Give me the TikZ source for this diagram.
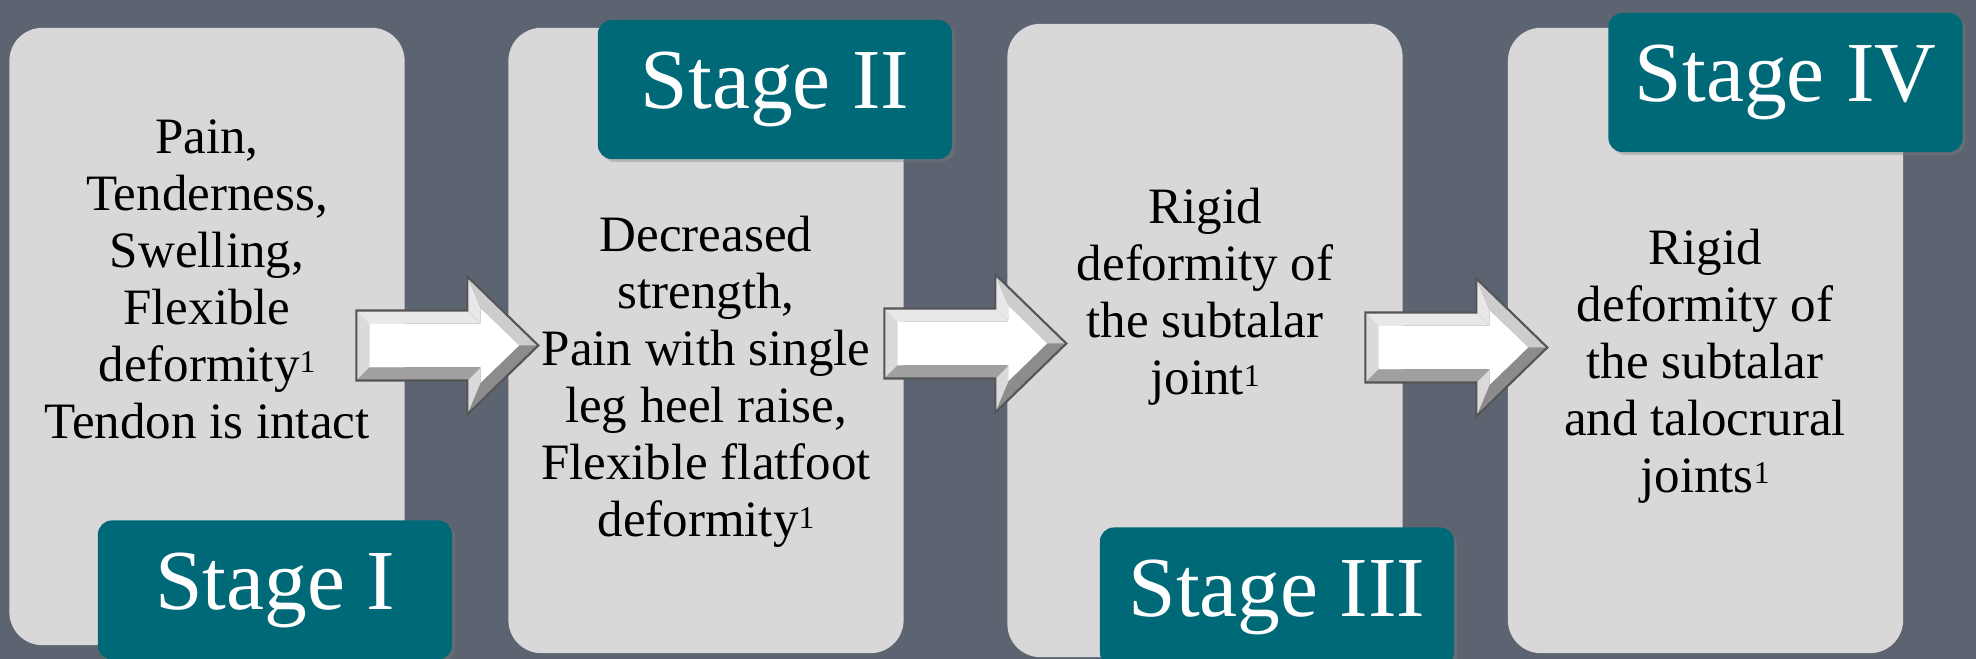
\documentclass[tikz,border=0pt]{standalone}
\usepackage{fontspec}
\setmainfont{Liberation Serif}
\usetikzlibrary{calc,shadows}

\definecolor{slatebg}{RGB}{91,100,112}
\definecolor{panelgray}{RGB}{217,215,216}
\definecolor{stageteal}{RGB}{0,105,120}
\definecolor{bevlight}{RGB}{232,232,232}
\definecolor{bevside}{RGB}{218,218,218}
\definecolor{bevmid}{RGB}{205,205,205}
\definecolor{bevdark}{RGB}{140,140,140}
\definecolor{bevbottom}{RGB}{160,160,160}
\definecolor{bevline}{RGB}{85,85,85}

% small footnote mark as in the slide
\newcommand{\refmark}{\raisebox{0.35ex}{\fontsize{9}{9}\selectfont 1}}

\tikzset{
  panel/.style={fill=panelgray, rounded corners=0.33cm, minimum width=3.95cm, minimum height=6.25cm, inner sep=0pt},
  stagelabel/.style={fill=stageteal, rounded corners=0.14cm, minimum width=3.54cm, minimum height=1.39cm,
    inner sep=0pt, text=white, font=\fontsize{24.3}{29}\selectfont,
    drop shadow={opacity=0.35, shadow xshift=0.03cm, shadow yshift=-0.03cm}},
  bodytext/.style={align=center, font=\fontsize{14.5}{16.2}\selectfont},
  pics/bevelarrow/.style={code={
    % facets of the bevelled block arrow
    \fill[white] (13,-22) -- (124,-22) -- (124,-38) -- (163,0) -- (124,38) -- (124,22) -- (13,22) -- cycle;
    \fill[bevside] (0,-35) -- (13,-22) -- (13,22) -- (0,35) -- cycle;
    \fill[bevlight] (0,-35) -- (111,-35) -- (124,-22) -- (13,-22) -- cycle;
    \fill[bevlight] (111,-35) -- (111,-69) -- (124,-38) -- (124,-22) -- cycle;
    \fill[bevmid] (111,-69) -- (182,0) -- (163,0) -- (124,-38) -- cycle;
    \fill[bevdark] (182,0) -- (111,69) -- (124,38) -- (163,0) -- cycle;
    \fill[bevside] (111,69) -- (111,35) -- (124,22) -- (124,38) -- cycle;
    \fill[bevbottom] (111,35) -- (0,35) -- (13,22) -- (124,22) -- cycle;
    \draw[bevline, line width=0.6pt] (0,-35) -- (111,-35) -- (111,-69) -- (182,0) -- (111,69) -- (111,35) -- (0,35) -- cycle;
  }}
}

\begin{document}
\begin{tikzpicture}[x=0.01cm, y=-0.01cm]
\useasboundingbox (0,0) rectangle (1976,659);
\fill[slatebg] (0,0) rectangle (1976,659);

% stage panels
\node[panel, minimum height=6.17cm] (p1) at (207,336.5) {};
\node[panel] (p2) at (706,340.5) {};
\node[panel, minimum height=6.33cm] (p3) at (1205,340.5) {};
\node[panel] (p4) at (1705.5,340.5) {};

% block arrows between panels
\pic at ($(p1.east)+(-49,9)$) {bevelarrow};
\pic at ($(p2.east)+(-20,3)$) {bevelarrow};
\pic at ($(p3.east)+(-38,7)$) {bevelarrow};

% panel texts
\node[bodytext] (t1) at (207,279) {Pain,\\Tenderness,\\Swelling,\\Flexible\\deformity\refmark\\Tendon is intact};
\node[bodytext] (t2) at (706,382) {Decreased\\strength,\\Pain with single\\leg heel raise,\\Flexible flatfoot\\deformity\refmark};
\node[bodytext] (t3) at (1205,297) {Rigid\\deformity of\\the subtalar\\joint\refmark};
\node[bodytext] (t4) at (1705,366) {Rigid\\deformity of\\the subtalar\\and talocrural\\joints\refmark};

% stage labels
\node[stagelabel] (s1) at (275,590) {Stage I};
\node[stagelabel] (s2) at (775,89.5) {Stage II};
\node[stagelabel] (s3) at (1277,597) {Stage III};
\node[stagelabel] (s4) at (1785.5,82.5) {Stage IV};
\end{tikzpicture}
\end{document}
